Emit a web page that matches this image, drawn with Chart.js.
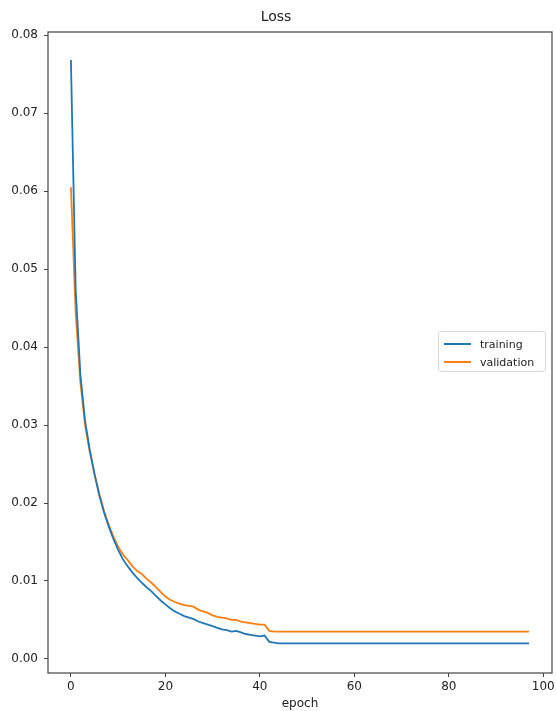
<!DOCTYPE html>
<html lang="en">
<head>
  <meta charset="UTF-8">
  <title>Loss</title>
  <style>
    body, html {
      margin: 0;
      background: #ffffff;
    }

    #chart-container {
      position: relative;
      width: 556px;
      height: 711px;
    }

    #legend {
      position: absolute;
      left: 438px;
      top: 331px;
      width: 108px;
      height: 41px;
      box-sizing: border-box;
      border: 1px solid #d8d8d8;
      border-radius: 3px;
      background: rgba(255, 255, 255, 0.8);
      font: 11px "DejaVu Sans", sans-serif;
      color: #222;
      padding-top: 3px;
    }

    .item {
      display: flex;
      align-items: center;
      height: 18px;
    }

    .swatch {
      width: 27px;
      height: 2px;
      margin: 0 9px 0 5px;
    }
  </style>
</head>
<body>
  <div id="chart-container">
    <canvas id="lossChart"></canvas>
    <div id="legend"></div>
  </div>

  <script src="https://cdn.jsdelivr.net/npm/chart.js"></script>
  <script>
    const seriesNames = ['training', 'validation'];
    const seriesColors = ['#1f77b4', '#ff7f0e'];

    const training = [
      0.0768, 0.0475, 0.0365, 0.0305, 0.0268, 0.0237, 0.0210, 0.0188, 0.0170, 0.0154,
      0.0140, 0.0128, 0.0119, 0.0111, 0.0104, 0.0098, 0.0092, 0.0087, 0.0081, 0.0075,
      0.0070, 0.0065, 0.0061, 0.0058, 0.0055, 0.0053, 0.0051, 0.0048, 0.0046, 0.0044,
      0.0042, 0.0040, 0.0038, 0.0037, 0.0035, 0.0036, 0.0034, 0.0032, 0.0031, 0.0030,
      0.0029, 0.0030, 0.0022, 0.0021,
      0.0020, 0.0020, 0.0020, 0.0020, 0.0020, 0.0020, 0.0020, 0.0020, 0.0020, 0.0020,
      0.0020, 0.0020, 0.0020, 0.0020, 0.0020, 0.0020, 0.0020, 0.0020, 0.0020, 0.0020,
      0.0020, 0.0020, 0.0020, 0.0020, 0.0020, 0.0020, 0.0020, 0.0020, 0.0020, 0.0020,
      0.0020, 0.0020, 0.0020, 0.0020, 0.0020, 0.0020, 0.0020, 0.0020, 0.0020, 0.0020,
      0.0020, 0.0020, 0.0020, 0.0020, 0.0020, 0.0020, 0.0020, 0.0020, 0.0020, 0.0020,
      0.0020, 0.0020, 0.0020, 0.0020
    ];

    const validation = [
      0.0605, 0.0445, 0.0355, 0.0300, 0.0265, 0.0237, 0.0212, 0.0190, 0.0172, 0.0157,
      0.0144, 0.0134, 0.0127, 0.0119, 0.0113, 0.0109, 0.0103, 0.0098, 0.0092, 0.0086,
      0.0080, 0.0076, 0.0073, 0.0071, 0.0069, 0.0068, 0.0067, 0.0063, 0.0061, 0.0059,
      0.0056, 0.0054, 0.0053, 0.0052, 0.0050, 0.0050, 0.0048, 0.0047, 0.0046, 0.0045,
      0.0044, 0.0044, 0.0036, 0.0035,
      0.0035, 0.0035, 0.0035, 0.0035, 0.0035, 0.0035, 0.0035, 0.0035, 0.0035, 0.0035,
      0.0035, 0.0035, 0.0035, 0.0035, 0.0035, 0.0035, 0.0035, 0.0035, 0.0035, 0.0035,
      0.0035, 0.0035, 0.0035, 0.0035, 0.0035, 0.0035, 0.0035, 0.0035, 0.0035, 0.0035,
      0.0035, 0.0035, 0.0035, 0.0035, 0.0035, 0.0035, 0.0035, 0.0035, 0.0035, 0.0035,
      0.0035, 0.0035, 0.0035, 0.0035, 0.0035, 0.0035, 0.0035, 0.0035, 0.0035, 0.0035,
      0.0035, 0.0035, 0.0035, 0.0035
    ];

    // one label per epoch, 0..97
    const epochs = training.map((_, i) => i);

    const xTicks = [0, 20, 40, 60, 80, 100];
    const yTicks = [0.00, 0.01, 0.02, 0.03, 0.04, 0.05, 0.06, 0.07, 0.08];

    const font = { family: '"DejaVu Sans", sans-serif', size: 12 };
    const axisColor = '#444';

    // top and right spines, matplotlib style box
    const frame = {
      id: 'frame',
      afterDatasetsDraw(chart) {
        const { ctx, chartArea: a } = chart;
        ctx.save();
        ctx.strokeStyle = axisColor;
        ctx.lineWidth = 1.2;
        ctx.strokeRect(a.left, a.top, a.right - a.left, a.bottom - a.top);
        ctx.restore();
      }
    };

    const ctx = document.getElementById('lossChart').getContext('2d');
    new Chart(ctx, {
      type: 'line',
      data: {
        labels: epochs,
        datasets: [training, validation].map((values, i) => ({
          label: seriesNames[i],
          data: values,
          borderColor: seriesColors[i],
          backgroundColor: seriesColors[i],
          borderWidth: 1.8,
          pointRadius: 0,
          tension: 0,
          fill: false
        }))
      },
      options: {
        responsive: true,
        maintainAspectRatio: false,
        animation: false,
        layout: { padding: { left: 0, right: 4, top: 0, bottom: 0 } },
        scales: {
          x: {
            type: 'linear',
            min: -4.85,
            max: 101.85,
            afterBuildTicks: (scale) => { scale.ticks = xTicks.map(v => ({ value: v })); },
            afterFit: (scale) => {
              scale.height = 38;
              scale.paddingLeft = 0;
              scale.paddingRight = 0;
            },
            grid: { drawOnChartArea: false, drawTicks: true, tickLength: 4, tickColor: axisColor },
            border: { display: false },
            ticks: { color: '#222', font, padding: 3, maxRotation: 0 },
            title: { display: true, text: 'epoch', color: '#222', font, padding: { top: 0, bottom: 0 } }
          },
          y: {
            min: -0.0018,
            max: 0.0804,
            afterBuildTicks: (scale) => { scale.ticks = yTicks.map(v => ({ value: v })); },
            afterFit: (scale) => {
              scale.width = 48;
              scale.paddingTop = 0;
              scale.paddingBottom = 0;
            },
            grid: { drawOnChartArea: false, drawTicks: true, tickLength: 4, tickColor: axisColor },
            border: { display: false },
            ticks: { color: '#222', font, padding: 6, callback: (v) => v.toFixed(2) }
          }
        },
        plugins: {
          legend: { display: false },
          tooltip: { enabled: false },
          title: {
            display: true,
            text: 'Loss',
            color: '#222',
            font: { family: '"DejaVu Sans", sans-serif', size: 14, weight: 'normal' },
            padding: { top: 9, bottom: 6.2 }
          }
        }
      },
      plugins: [frame]
    });

    // legend as html, sits inside the plot on the right
    const legend = document.getElementById('legend');
    seriesNames.forEach((name, i) => {
      const row = document.createElement('div');
      row.className = 'item';
      row.innerHTML = '<span class="swatch" style="background:' + seriesColors[i] + '"></span>' + name;
      legend.appendChild(row);
    });
  </script>
</body>
</html>
